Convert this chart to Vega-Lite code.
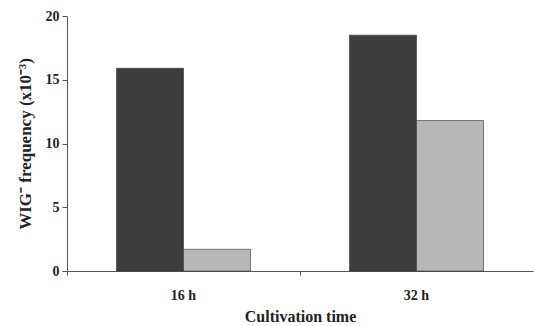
{
  "$schema": "https://vega.github.io/schema/vega-lite/v6.json",
  "width": 466,
  "height": 255,
  "autosize": {"type": "none"},
  "padding": {"left": 67, "top": 16, "right": 1, "bottom": 55},
  "background": "white",
  "config": {
    "view": {"stroke": null},
    "font": "Liberation Serif",
    "axis": {"grid": false, "domainColor": "#555555", "tickColor": "#555555", "labelColor": "#222222", "titleColor": "#222222", "labelFont": "Liberation Serif", "titleFont": "Liberation Serif", "labelFontWeight": "bold", "titleFontWeight": "bold"}
  },
  "data": {
    "values": [
      {"time": "16 h", "group": "A", "value": 15.9},
      {"time": "16 h", "group": "B", "value": 1.7},
      {"time": "32 h", "group": "A", "value": 18.5},
      {"time": "32 h", "group": "B", "value": 11.8}
    ]
  },
  "mark": {"type": "bar", "stroke": "#333333", "strokeWidth": 0.6},
  "encoding": {
    "x": {
      "field": "time", "type": "nominal",
      "scale": {"paddingInner": 0, "paddingOuter": 0},
      "axis": {"title": "Cultivation time", "labelAngle": 0, "labelFontSize": 14, "titleFontSize": 16, "labelPadding": 13, "titlePadding": 6, "tickSize": 4, "bandPosition": 0}
    },
    "xOffset": {"field": "group", "scale": {"paddingInner": 0, "paddingOuter": 0.739}},
    "y": {
      "field": "value", "type": "quantitative",
      "scale": {"domain": [0, 20], "nice": false},
      "axis": {"title": "WIG⁻ frequency (x10⁻³)", "values": [0, 5, 10, 15, 20], "labelFontSize": 14, "titleFontSize": 17, "tickSize": 5, "labelPadding": 3, "titlePadding": 11}
    },
    "color": {
      "field": "group", "type": "nominal",
      "scale": {"domain": ["A", "B"], "range": ["#3d3d3d", "#b8b8b8"]},
      "legend": null
    }
  }
}
